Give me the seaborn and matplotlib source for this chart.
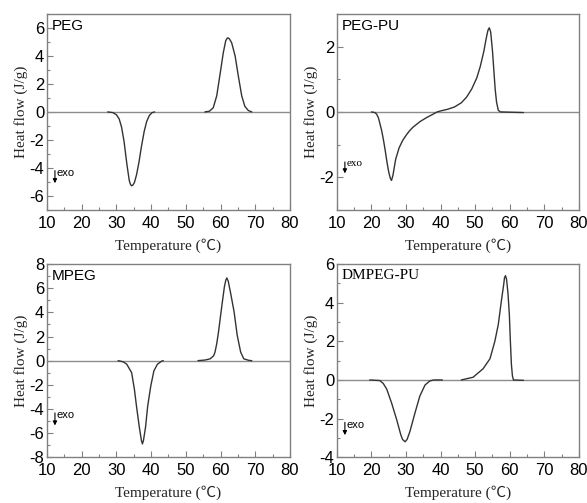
import numpy as np
import pandas as pd
import matplotlib
matplotlib.use("Agg")
import matplotlib.pyplot as plt
import seaborn as sns
from matplotlib.ticker import MultipleLocator

# ---------------- data ----------------
peg_T1 = [27.5, 29.0, 30.0, 30.8, 31.5, 32.2, 33.0, 33.7, 34.0, 34.3, 34.7, 35.2, 35.8, 36.5, 37.2, 38.0, 38.7, 39.5, 40.3, 41.0]
peg_Q1 = [0.0, -0.05, -0.2, -0.5, -1.1, -2.1, -3.7, -4.9, -5.15, -5.28, -5.25, -5.05, -4.5, -3.6, -2.5, -1.4, -0.7, -0.25, -0.05, 0.0]
peg_T2 = [55.5, 56.8, 57.9, 58.9, 59.8, 60.8, 61.5, 62.0, 62.5, 63.2, 64.2, 65.1, 66.1, 67.0, 68.0, 69.0]
peg_Q2 = [0.0, 0.05, 0.3, 1.15, 2.6, 4.25, 5.1, 5.3, 5.25, 4.95, 4.0, 2.6, 1.15, 0.4, 0.1, 0.0]

pu_T = [20.0, 21.0, 21.5, 22.0, 22.5, 23.0, 23.5, 24.0, 24.5, 25.0, 25.5, 25.8, 26.2, 26.6, 27.0, 28.0,
        29.0, 30.0, 31.0, 32.0, 34.0, 36.0, 38.0, 39.0, 40.0, 42.0, 44.0, 46.0, 47.5, 49.0, 50.5, 51.5,
        52.5, 53.2, 53.7, 54.1, 54.5, 55.0, 55.4, 55.8, 56.2, 56.7, 57.3, 64.0]
pu_Q = [0.0, -0.02, -0.07, -0.18, -0.38, -0.6, -0.88, -1.2, -1.55, -1.85, -2.05, -2.1, -1.95, -1.7, -1.45, -1.1,
        -0.88, -0.72, -0.58, -0.47, -0.3, -0.17, -0.06, 0.0, 0.03, 0.08, 0.15, 0.28, 0.45, 0.7, 1.05, 1.4,
        1.85, 2.25, 2.5, 2.58, 2.45, 1.9, 1.3, 0.7, 0.3, 0.05, 0.0, -0.02]

mp_T1 = [30.5, 32.0, 33.0, 34.4, 35.2, 35.8, 36.6, 37.2, 37.5, 37.8, 38.4, 39.0, 39.9, 40.8, 41.8, 43.0, 43.5]
mp_Q1 = [0.0, -0.1, -0.3, -1.0, -2.4, -3.8, -5.5, -6.6, -6.9, -6.6, -5.5, -3.8, -2.1, -0.85, -0.3, -0.05, 0.0]
mp_T2 = [53.5, 55.5, 57.0, 58.0, 58.4, 58.9, 59.4, 60.4, 61.1, 61.5, 61.8, 62.2, 62.9, 63.9, 64.8, 65.8, 66.7, 68.2, 69.0]
mp_Q2 = [0.0, 0.05, 0.15, 0.4, 0.7, 1.4, 2.35, 4.6, 6.1, 6.65, 6.85, 6.6, 5.6, 4.05, 2.1, 0.7, 0.15, 0.02, 0.0]

dm_T1 = [19.5, 22.4, 23.4, 24.4, 25.8, 27.3, 28.5, 29.0, 29.7, 30.3, 31.1, 32.6, 34.0, 35.5, 36.9, 38.0, 40.5]
dm_Q1 = [0.0, -0.03, -0.18, -0.47, -1.18, -2.06, -2.85, -3.08, -3.2, -3.08, -2.68, -1.7, -0.83, -0.26, -0.05, 0.0, 0.0]
dm_T2 = [46.0, 49.4, 52.3, 54.3, 55.7, 56.7, 57.6, 58.3, 58.5, 58.8, 59.1, 59.5, 59.9, 60.2, 60.5, 60.8, 61.1, 64.0]
dm_Q2 = [0.0, 0.14, 0.58, 1.1, 2.0, 2.87, 4.1, 4.98, 5.3, 5.4, 5.2, 4.5, 3.4, 2.0, 0.8, 0.2, 0.0, -0.02]

panel_names = ["PEG", "PEG-PU", "MPEG", "DMPEG-PU"]
x_ticks = [10, 20, 30, 40, 50, 60, 70, 80]
y_limits = [(-7, 7), (-3, 3), (-8, 8), (-4, 6)]
y_major_ticks = [[-6, -4, -2, 0, 2, 4, 6], [-2, 0, 2], [-8, -6, -4, -2, 0, 2, 4, 6, 8], [-4, -2, 0, 2, 4, 6]]

segments = [
    [(peg_T1, peg_Q1), (peg_T2, peg_Q2)],
    [(pu_T, pu_Q)],
    [(mp_T1, mp_Q1), (mp_T2, mp_Q2)],
    [(dm_T1, dm_Q1), (dm_T2, dm_Q2)],
]

# ---------------- style ----------------
sns.set_theme(style="ticks")
plt.rcParams['font.family'] = ['Liberation Sans', 'DejaVu Sans']
plt.rcParams['axes.unicode_minus'] = False
serif = ['Liberation Serif', 'Noto Sans CJK SC', 'DejaVu Serif']
sans = ['Liberation Sans', 'DejaVu Sans']

fig = plt.figure(figsize=(5.87, 5.03), dpi=100)
positions = [
    [0.080, 0.583, 0.414, 0.389],
    [0.574, 0.583, 0.412, 0.389],
    [0.080, 0.091, 0.414, 0.384],
    [0.574, 0.091, 0.412, 0.384],
]
title_fonts = [sans, sans, sans, serif]
exo_fonts = [sans, serif, sans, sans]
exo_arrows = [(-4.0, -5.3), (-1.45, -1.97), (-4.1, -5.6), (-2.05, -3.0)]

spine_col = "#808080"
curve_col = "#333333"

for i, ax in enumerate([fig.add_axes(p) for p in positions]):
    ax.axhline(0, color="#8c8c8c", lw=1.0, zorder=1)
    for T, Q in segments[i]:
        df = pd.DataFrame({"T": T, "Q": Q})
        sns.lineplot(data=df, x="T", y="Q", ax=ax, color=curve_col, lw=1.0,
                     sort=False, estimator=None, zorder=2)
    ax.set_xlim(10, 80)
    ax.set_ylim(*y_limits[i])
    ax.set_xticks(x_ticks)
    ax.set_yticks(y_major_ticks[i])
    ax.xaxis.set_minor_locator(MultipleLocator(5))
    ax.yaxis.set_minor_locator(MultipleLocator(1))
    ax.tick_params(which="major", direction="in", length=4, width=0.8, color=spine_col,
                   labelsize=12, labelcolor="black")
    ax.tick_params(axis="x", which="major", pad=4.5)
    ax.tick_params(axis="y", which="major", pad=2)
    ax.tick_params(which="minor", direction="in", length=2, width=0.8, color=spine_col)
    for lab in ax.get_xticklabels() + ax.get_yticklabels():
        lab.set_family(sans)
    for s in ax.spines.values():
        s.set_color(spine_col)
        s.set_linewidth(1.0)
    ax.set_xlabel("Temperature (℃)", family=serif, fontsize=11, labelpad=5)
    ax.set_ylabel("Heat flow (J/g)", family=serif, fontsize=11, labelpad=1)
    ax.text(0.02, 0.975, panel_names[i], transform=ax.transAxes, ha="left", va="top",
            fontsize=11, family=title_fonts[i], color="black")
    y0, y1 = exo_arrows[i]
    ax.annotate("", xy=(12.3, y1), xytext=(12.3, y0),
                arrowprops=dict(arrowstyle="-|>", color="black", lw=0.8, mutation_scale=6))
    ax.text(12.8, y0, "exo", fontsize=8, family=exo_fonts[i], ha="left", va="top", color="black")

fig.savefig("out.png", dpi=100, facecolor="white")
